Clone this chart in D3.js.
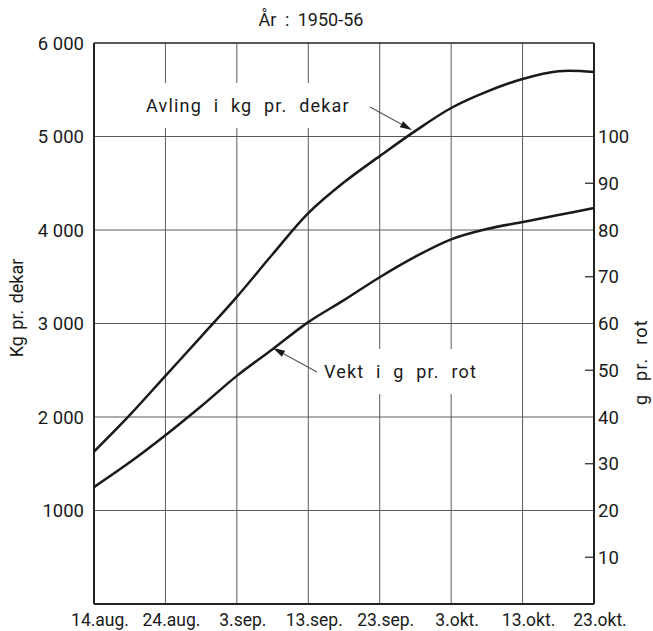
<!DOCTYPE html>
<html>
<head>
<meta charset="utf-8">
<script src="https://cdn.jsdelivr.net/npm/d3@7"></script>
<style>
  html, body { margin: 0; padding: 0; background: #fff; }
  svg { display: block; font-family: Roboto, "Liberation Sans", Arial, sans-serif; fill: #1a1a1a; }
</style>
</head>
<body>
<svg id="chart" width="653" height="631"></svg>
<script>
// Observation dates (1950 used as a reference year), every 5 days
const dates = ["08-14","08-19","08-24","08-29","09-03","09-08","09-13","09-18",
               "09-23","09-28","10-03","10-08","10-13","10-18","10-23"];
// Yield, kg per dekar
const avling = [1630, 2020, 2440, 2860, 3285, 3740, 4180, 4510,
                4790, 5060, 5305, 5480, 5615, 5698, 5690];
// Weight, g per root
const vekt = [25.0, 30.3, 36.1, 42.3, 48.8, 54.5, 60.3, 65.0,
              69.9, 74.3, 78.0, 80.2, 81.7, 83.2, 84.7];

// Axis ticks
const xTickDates = ["08-14","08-24","09-03","09-13","09-23","10-03","10-13","10-23"];
const xTickLabels = ["14.aug.","24.aug.","3.sep.","13.sep.","23.sep.","3.okt.","13.okt.","23.okt."];
const leftTicks = [1000, 2000, 3000, 4000, 5000, 6000];
const leftTickLabels = ["1000", "2 000", "3 000", "4 000", "5 000", "6 000"];
const rightTicks = [10, 20, 30, 40, 50, 60, 70, 80, 90, 100];

const title = "År : 1950-56";
const leftTitle = "Kg pr. dekar";
const rightTitle = "g pr. rot";
const avlingLabel = "Avling i kg pr. dekar";
const vektLabel = "Vekt i g pr. rot";

const W = 653, H = 631;
const m = { left: 94, right: 59, top: 43, bottom: 27 };
const iw = W - m.left - m.right, ih = H - m.top - m.bottom;

const parse = s => new Date(1950, +s.slice(0, 2) - 1, +s.slice(3));
const svg = d3.select("#chart");
const g = svg.append("g").attr("transform", `translate(${m.left},${m.top})`);

const x = d3.scaleTime().domain([parse(dates[0]), parse(dates[dates.length - 1])]).range([0, iw]);
const yL = d3.scaleLinear().domain([0, 6000]).range([ih, 0]);
const yR = d3.scaleLinear().domain([0, 120]).range([ih, 0]);

// Grid
const gridCol = "#5a5a5a";
g.append("g").selectAll("line").data(leftTicks.slice(0, -1)).join("line")
  .attr("x1", 0).attr("x2", iw)
  .attr("y1", d => yL(d)).attr("y2", d => yL(d))
  .attr("stroke", gridCol).attr("stroke-width", 1);
g.append("g").selectAll("line").data(xTickDates.slice(1, -1)).join("line")
  .attr("x1", d => x(parse(d))).attr("x2", d => x(parse(d)))
  .attr("y1", 0).attr("y2", ih)
  .attr("stroke", gridCol).attr("stroke-width", 1);

// Frame
g.append("line").attr("x1", 0).attr("x2", iw).attr("y1", 0).attr("y2", 0)
  .attr("stroke", "#222").attr("stroke-width", 1.6);
g.append("line").attr("x1", 0).attr("x2", iw).attr("y1", ih).attr("y2", ih)
  .attr("stroke", "#222").attr("stroke-width", 2);
g.append("line").attr("x1", 0).attr("x2", 0).attr("y1", 0).attr("y2", ih)
  .attr("stroke", "#222").attr("stroke-width", 2);
g.append("line").attr("x1", iw).attr("x2", iw).attr("y1", 0).attr("y2", ih)
  .attr("stroke", "#222").attr("stroke-width", 2);

// Right-axis minor ticks (the even values sit on grid lines)
g.append("g").selectAll("line").data(rightTicks.filter(d => d % 20 !== 0)).join("line")
  .attr("x1", iw - 9).attr("x2", iw)
  .attr("y1", d => yR(d)).attr("y2", d => yR(d))
  .attr("stroke", "#222").attr("stroke-width", 1.2);

// Tick labels
const tickFont = 18.5;
g.append("g").selectAll("text").data(leftTicks).join("text")
  .attr("x", -10).attr("y", d => yL(d)).attr("dy", "0.36em")
  .attr("text-anchor", "end").attr("font-size", tickFont)
  .text((d, i) => leftTickLabels[i]);
g.append("g").selectAll("text").data(rightTicks).join("text")
  .attr("x", iw + 4).attr("y", d => yR(d)).attr("dy", "0.36em")
  .attr("text-anchor", "start").attr("font-size", tickFont)
  .text(d => d);
g.append("g").selectAll("text").data(xTickDates).join("text")
  .attr("x", d => x(parse(d)) + 6).attr("y", ih + 22)
  .attr("text-anchor", "middle").attr("font-size", 17.5)
  .text((d, i) => xTickLabels[i]);

// Titles
svg.append("text").attr("x", 311).attr("y", 26).attr("text-anchor", "middle")
  .attr("font-size", 18).attr("word-spacing", 4).text(title);
svg.append("text").attr("transform", "translate(23,308) rotate(-90)")
  .attr("text-anchor", "middle").attr("font-size", 18).attr("word-spacing", 2).text(leftTitle);
svg.append("text").attr("transform", "translate(647,362) rotate(-90)")
  .attr("text-anchor", "middle").attr("font-size", 18)
  .attr("letter-spacing", 1.2).attr("word-spacing", 7).text(rightTitle);

// Curves
const curve = d3.curveCatmullRom.alpha(0.5);
const lineL = d3.line().x((d, i) => x(parse(dates[i]))).y(d => yL(d)).curve(curve);
const lineR = d3.line().x((d, i) => x(parse(dates[i]))).y(d => yR(d)).curve(curve);
g.append("path").datum(avling).attr("d", lineL)
  .attr("fill", "none").attr("stroke", "#1a1a1a").attr("stroke-width", 2.5);
g.append("path").datum(vekt).attr("d", lineR)
  .attr("fill", "none").attr("stroke", "#1a1a1a").attr("stroke-width", 2.5);

// Series labels with white backing that interrupts the grid
function label(txt, lx, ly) {
  const t = svg.append("text").attr("x", lx).attr("y", ly)
    .attr("font-size", 18).attr("letter-spacing", 1.2).attr("word-spacing", 6).text(txt);
  const b = t.node().getBBox();
  svg.insert("rect", () => t.node())
    .attr("x", b.x - 4).attr("y", b.y - 12).attr("width", b.width + 8).attr("height", b.height + 24)
    .attr("fill", "#fff");
}
label(avlingLabel, 146, 112);
label(vektLabel, 324, 378);

// Leader arrows
function arrow(x1, y1, x2, y2) {
  const a = Math.atan2(y2 - y1, x2 - x1), L = 12, w = 3.5;
  svg.append("line").attr("x1", x1).attr("y1", y1).attr("x2", x2 - L * Math.cos(a)).attr("y2", y2 - L * Math.sin(a))
    .attr("stroke", "#555").attr("stroke-width", 1.1);
  const bx = x2 - L * Math.cos(a), by = y2 - L * Math.sin(a);
  const pts = [[x2, y2],
    [bx + w * Math.sin(a), by - w * Math.cos(a)],
    [bx - w * Math.sin(a), by + w * Math.cos(a)]];
  svg.append("path").attr("d", "M" + pts.map(p => p.join(",")).join("L") + "Z").attr("fill", "#1a1a1a");
}
arrow(370, 107, 412, 130);
arrow(317, 372, 273, 348);
</script>
</body>
</html>
